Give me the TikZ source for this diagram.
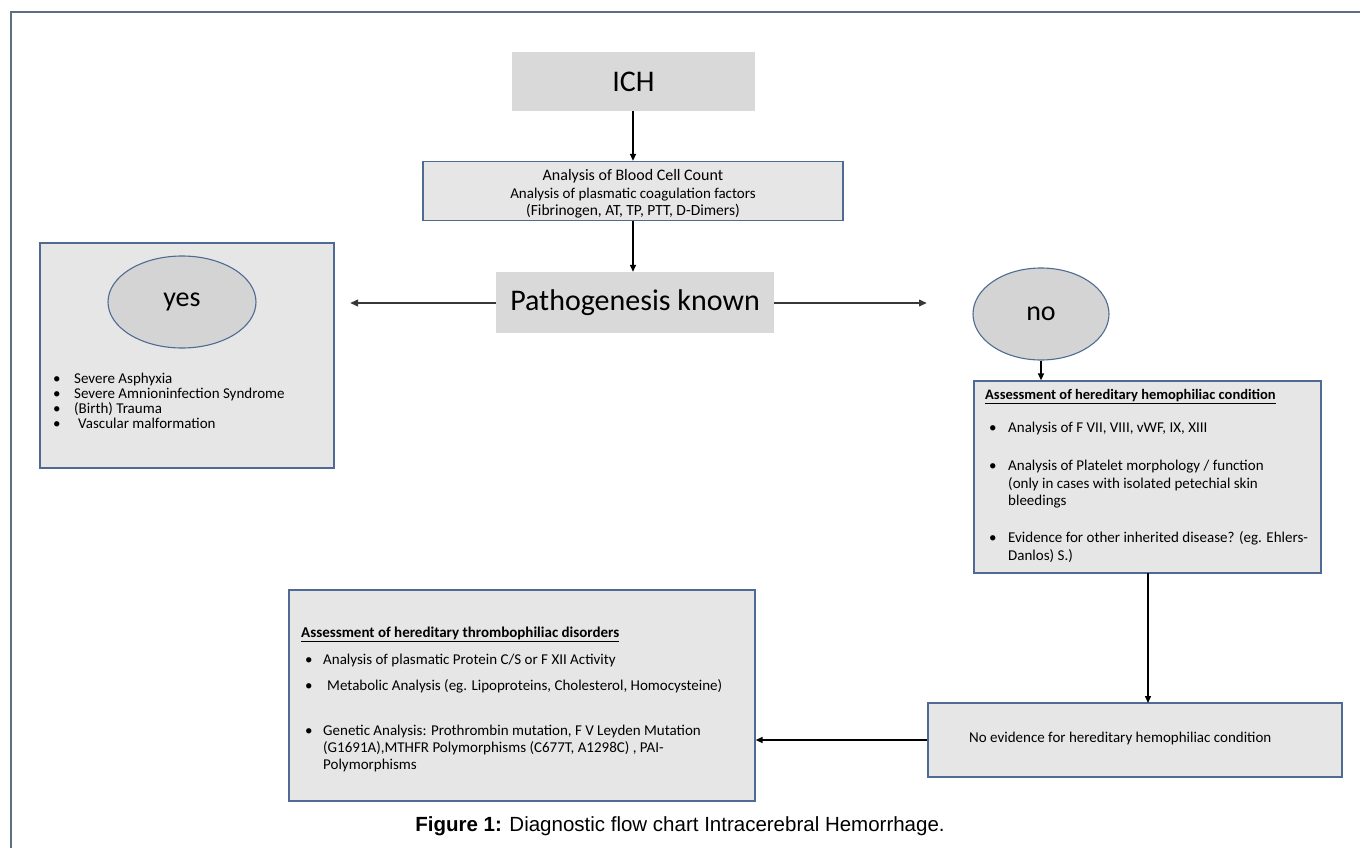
\documentclass[tikz,border=0pt]{standalone}
\usepackage{fontspec}
\setmainfont{Carlito}
\newfontfamily\capfont{Liberation Sans}
\usetikzlibrary{arrows.meta,shapes.geometric}
\definecolor{boxfill}{HTML}{E6E6E6}
\definecolor{boxline}{HTML}{4F6B93}
\definecolor{darkfill}{HTML}{D9D9D9}
\definecolor{ellfill}{HTML}{D4D4D4}
\definecolor{framecol}{HTML}{5F6E80}
\newcommand\ftyes{\fontsize{15}{15}\selectfont}
\newcommand\ftbody{\fontsize{15}{17.5}\selectfont}
\newcommand\ftbig{\fontsize{30}{36}\selectfont}
\begin{document}
\begin{tikzpicture}[x=1pt,y=-1pt,
  lbox/.style={draw=boxline, line width=1.3pt, fill=boxfill, inner sep=0pt},
  gbox/.style={fill=darkfill, inner sep=0pt, font=\ftbig},
  oval/.style={ellipse, draw=boxline, line width=1.1pt, fill=ellfill, inner sep=0pt, font=\fontsize{28}{32}\selectfont},
  arr/.style={-{Triangle[length=7pt,width=6pt]}, line width=1.4pt, black},
  harr/.style={-{Triangle[length=8pt,width=6.5pt,fill=black]}, line width=2.4pt, draw=black!78},
  txt/.style={inner sep=0pt, anchor=west, text height=0.7em, text depth=0.2em},
  ytxt/.style={txt, font=\ftyes},
  btxt/.style={txt, font=\ftbody},
]
\useasboundingbox (0,0) rectangle (1360,848);
% frame
\coordinate (f1) at (11,848);
\coordinate (f2) at (11,12);
\coordinate (f3) at (1360,12);
\draw[framecol, line width=2pt] (f1) -- (f2) -- (f3);

% top chain
\node[gbox, minimum width=243pt, minimum height=59pt] (ich) at (633.5,81.5) {ICH};
\node[lbox, minimum width=420pt, minimum height=59pt] (ana) at (633,191) {};
\node[inner sep=0pt, align=center, font=\fontsize{15}{17.5}\selectfont] (anat) at (633,194)
  {{\fontsize{16}{17.5}\selectfont Analysis of Blood Cell Count}\\
   {\fontsize{15}{17.5}\selectfont Analysis of plasmatic coagulation factors}\\
   {\fontsize{15.5}{17.5}\selectfont (Fibrinogen, AT, TP, PTT, D-Dimers)}};
\node[gbox, minimum width=278pt, minimum height=61pt] (path) at (635,302.5) {Pathogenesis known};
\draw[arr] (ich.south -| ana.north) -- (ana.north);
\draw[arr] (ana.south) -- (ana.south |- path.north);

% yes side
\node[lbox, minimum width=294pt, minimum height=225pt] (yesbox) at (187,355.5) {};
\node[oval, minimum width=148pt, minimum height=92pt] (yes) at (182,302) {yes};
\coordinate (yestip) at (350,303);
\draw[harr] (path.west |- yestip) -- (yestip);
\node[ytxt] (yb1) at (53,381) {\textbullet};
\node[ytxt] (yt1) at (74,381) {Severe Asphyxia};
\node[ytxt] (yb2) at (53,396) {\textbullet};
\node[ytxt] (yt2) at (74,396) {Severe Amnioninfection Syndrome};
\node[ytxt] (yb3) at (53,411) {\textbullet};
\node[ytxt] (yt3) at (74,411) {(Birth) Trauma};
\node[ytxt] (yb4) at (53,426) {\textbullet};
\node[ytxt] (yt4) at (78,426) {Vascular malformation};

% no side
\node[oval, minimum width=136pt, minimum height=92pt] (no) at (1041,314) {no};
\coordinate (notip) at (927,303);
\draw[harr] (path.east |- notip) -- (notip);
\node[lbox, minimum width=347pt, minimum height=192pt] (hemo) at (1147.5,477) {};
\draw[arr] (no.south) -- (no.south |- hemo.north);
\node[btxt, font=\fontsize{14.5}{17}\selectfont] (hh) at (985,397) {\bfseries\underline{Assessment of hereditary hemophiliac condition}};
\node[btxt] (hb1) at (989,430) {\textbullet};
\node[btxt] (ht1) at (1008,430) {Analysis of F VII, VIII, vWF, IX, XIII};
\node[btxt] (hb2) at (989,468) {\textbullet};
\node[btxt] (ht2a) at (1008,468) {Analysis of Platelet morphology / function};
\node[btxt] (ht2b) at (1008,485.5) {(only in cases with isolated petechial skin};
\node[btxt] (ht2c) at (1008,503) {bleedings};
\node[btxt] (hb3) at (989,540) {\textbullet};
\node[btxt] (ht3a) at (1008,540) {Evidence for other inherited disease? (eg. Ehlers-};
\node[btxt] (ht3b) at (1008,557.5) {Danlos) S.)};

% no evidence
\node[lbox, minimum width=414pt, minimum height=74pt] (noev) at (1135,740) {};
\node[btxt] (noevt) at (969,740) {No evidence for hereditary hemophiliac condition};
\coordinate (hemoout) at (1148,573);
\coordinate (noevin) at (1148,703);
\draw[arr] (hemoout) -- (noevin);

% thrombophilia
\node[lbox, minimum width=466pt, minimum height=211pt] (thr) at (522,695.5) {};
\draw[arr] (noev.west) -- (noev.west -| thr.east);
\node[btxt] (th) at (301,635) {\bfseries\underline{Assessment of hereditary thrombophiliac disorders}};
\node[btxt] (tb1) at (305,662) {\textbullet};
\node[btxt] (tt1) at (323,662) {Analysis of plasmatic Protein C/S or F XII Activity};
\node[btxt] (tb2) at (305,688) {\textbullet};
\node[btxt] (tt2) at (327,688) {Metabolic Analysis (eg. Lipoproteins, Cholesterol, Homocysteine)};
\node[btxt] (tb3) at (305,733) {\textbullet};
\node[btxt] (tt3a) at (323,733) {Genetic Analysis: Prothrombin mutation, F V Leyden Mutation};
\node[btxt] (tt3b) at (323,750) {(G1691A),MTHFR Polymorphisms (C677T, A1298C) , PAI-};
\node[btxt] (tt3c) at (323,767) {Polymorphisms};

% caption
\node[inner sep=0pt, font=\capfont\fontsize{20.5}{24}\selectfont] (cap) at (680,826)
  {\textbf{Figure 1:} Diagnostic flow chart Intracerebral Hemorrhage.};
\end{tikzpicture}
\end{document}
